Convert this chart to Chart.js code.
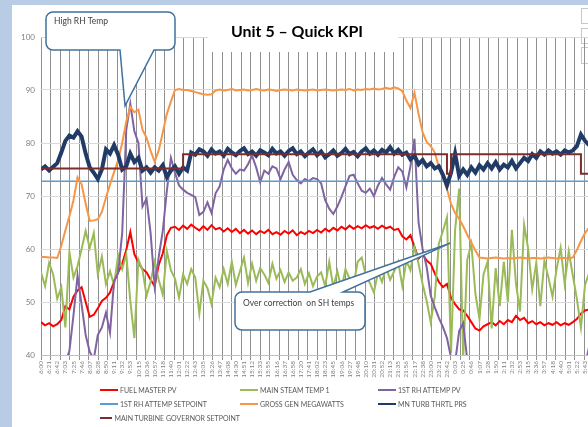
<!DOCTYPE html>
<html>
<head>
<meta charset="utf-8">
<script src="https://cdn.jsdelivr.net/npm/chart.js@4.4.1/dist/chart.umd.min.js"></script>
<style>
  html, body { margin: 0; padding: 0; }
  body { width: 588px; height: 427px; background: #b9cce6; position: relative; overflow: hidden; }
  #panel { position: absolute; left: 12px; top: 5px; width: 576px; height: 422px; background: #fff; }
  #wrap { position: absolute; left: 0; top: 0; width: 588px; height: 386px; }
  #legend {
    position: absolute; left: 100px; top: 383px;
    display: grid; grid-template-columns: 140px 138px 160px; grid-auto-rows: 14px;
    font: 7px Lato, sans-serif; color: #595959;
  }
  #legend .item { display: flex; align-items: center; white-space: nowrap; }
  #legend .swatch { width: 18px; height: 2px; margin-right: 2px; }
  .xlbtn { position: absolute; left: 581px; width: 12px; background: #fff; border: 1px solid #c8c8c8; }
</style>
</head>
<body>
<div id="panel"></div>
<div class="xlbtn" style="top:8px;height:14px"></div>
<div class="xlbtn" style="top:28px;height:14px"></div>
<div class="xlbtn" style="top:47px;height:15px"></div>
<div id="wrap"><canvas id="kpi" width="588" height="386"></canvas></div>
<div id="legend"></div>
<script>
// time labels on the x axis (one every ~21 min)
const times = ["6:00","6:21","6:42","7:03","7:25","7:46","8:07","8:28","8:50","9:11","9:32","9:53",
  "10:15","10:36","10:57","11:18","11:40","12:01","12:22","12:43","13:05","13:26","13:47","14:08",
  "14:30","14:51","15:12","15:33","15:55","16:16","16:37","16:58","17:20","17:41","18:02","18:23",
  "18:45","19:06","19:27","19:48","20:10","20:31","20:52","21:13","21:35","21:56","22:17","22:38",
  "23:00","23:21","23:42","0:03","0:25","0:46","1:07","1:28","1:50","2:11","2:32","2:53","3:15",
  "3:36","3:57","4:18","4:40","5:01","5:22","5:43"];

// two samples per time label
const SAMPLES_PER_LABEL = 2;

const fuelMasterPv = [
  46.2, 45.6, 46.0, 45.4, 45.8, 46.6, 49.2, 48.6, 51.0, 52.2,
  52.8, 50.0, 47.2, 47.6, 48.8, 50.2, 50.8, 51.8, 53.8, 55.6,
  57.2, 59.8, 63.2, 59.0, 57.4, 56.2, 55.6, 54.2, 53.0, 57.0,
  59.2, 62.6, 64.0, 64.2, 63.6, 64.4, 63.8, 64.6, 64.0, 63.5,
  64.3, 63.6, 64.5, 63.7, 64.0, 63.3, 63.9, 63.2, 63.8, 63.0,
  63.6, 62.9, 63.5, 62.8, 63.4, 63.0, 63.6, 62.8, 63.2, 62.7,
  63.4, 62.9, 63.5, 62.6, 63.2, 62.8, 63.4, 63.0, 63.6, 63.1,
  63.8, 63.3, 64.0, 63.5, 64.2, 63.7, 64.4, 63.8, 64.3, 63.9,
  64.5, 64.0, 64.3, 63.8, 64.4, 63.9, 64.2, 63.6, 63.8, 62.4,
  61.8, 62.6, 60.4, 58.2, 59.0, 57.8, 57.2, 55.4, 53.8, 52.8,
  53.4, 50.8, 49.6, 48.6, 48.4, 47.4, 46.2, 45.0, 44.6, 45.4,
  45.8, 46.2, 45.6, 46.4, 45.8, 46.6, 46.2, 47.4, 46.6, 47.0,
  46.0, 46.4, 45.8, 46.2, 45.6, 46.0, 45.7, 46.2, 45.6, 46.0,
  45.7, 46.2, 46.8, 47.8, 48.4, 48.6];

const mainSteamTemp = [
  55.6, 53.0, 57.4, 55.2, 50.6, 52.8, 45.2, 59.4, 54.6, 56.8,
  60.0, 63.4, 60.2, 63.0, 55.2, 58.6, 53.4, 55.8, 53.2, 58.8,
  56.2, 59.0, 50.2, 43.2, 58.0, 56.0, 51.2, 53.8, 57.6, 54.2,
  51.4, 59.6, 56.0, 54.4, 50.8, 55.2, 53.4, 56.2, 54.6, 47.8,
  54.0, 52.6, 49.6, 54.6, 52.8, 56.2, 53.4, 57.6, 53.2, 55.8,
  58.4, 53.6, 57.2, 54.0, 56.4, 55.2, 53.6, 57.2, 54.4, 56.0,
  53.8, 55.6, 54.0, 54.6, 56.2, 53.4, 55.4, 53.0, 54.8, 55.6,
  53.0, 57.6, 52.8, 55.8, 52.4, 56.2, 54.4, 53.2, 57.6, 58.4,
  55.0, 53.6, 51.8, 55.6, 53.8, 56.6, 54.2, 55.8, 57.6, 53.0,
  57.8, 56.0, 60.4, 57.2, 53.4, 50.2, 46.2, 51.0, 61.0, 63.4,
  66.0, 40.4, 63.6, 71.4, 39.4, 58.0, 61.0, 51.6, 46.8, 55.2,
  57.6, 45.0, 56.4, 49.2, 57.6, 50.0, 63.6, 53.4, 48.2, 64.6,
  60.0, 52.4, 57.4, 49.2, 57.8, 54.6, 51.0, 56.2, 60.2, 53.4,
  59.6, 55.0, 50.6, 45.2, 53.2, 55.4];

const rhAttempPv = [
  36, 36, 36, 36, 36, 37, 38.5, 40.8, 47.5, 55.0,
  49.5, 43.8, 40.6, 39.2, 43.8, 45.2, 48.0, 44.2, 54.0, 55.5,
  63.0, 82.5, 87.4, 82.2, 80.0, 68.0, 69.5, 63.0, 53.0, 58.5,
  63.4, 71.0, 77.2, 74.4, 72.0, 71.2, 70.6, 70.2, 69.8, 66.4,
  67.0, 68.8, 66.8, 70.5, 71.8, 75.0, 76.8, 75.2, 74.2, 75.0,
  74.8, 76.0, 77.6, 75.4, 72.6, 74.8, 74.2, 75.6, 75.2, 73.2,
  75.0, 76.4, 74.0, 73.0, 72.4, 73.2, 72.8, 73.4, 73.2, 72.4,
  69.2, 67.6, 66.6, 68.0, 69.8, 71.8, 73.8, 74.0, 72.4, 71.0,
  70.6, 71.4, 70.0, 72.0, 73.4, 72.2, 71.2, 73.6, 75.4, 74.6,
  71.6, 75.6, 80.8, 65.0, 60.0, 56.6, 51.2, 49.0, 47.0, 45.3,
  43.2, 39.5, 38.5, 44.5, 46.0, 39.0, 37, 37, 37, 37,
  37, 37, 37, 37, 37, 37, 37, 37, 37, 37,
  37, 37, 37, 37, 37, 37, 37, 37, 37, 37,
  37, 37, 37, 37, 38, 41.5];

const rhAttempSetpoint = [
  72.8, 72.8, 72.8, 72.8, 72.8, 72.8, 72.8, 72.8, 72.8, 72.8,
  72.8, 72.8, 72.8, 72.8, 72.8, 72.8, 72.8, 72.8, 72.8, 72.8,
  72.8, 72.8, 72.8, 72.8, 72.8, 72.8, 72.8, 72.8, 72.8, 72.8,
  72.8, 72.8, 72.8, 72.8, 72.8, 72.8, 72.8, 72.8, 72.8, 72.8,
  72.8, 72.8, 72.8, 72.8, 72.8, 72.8, 72.8, 72.8, 72.8, 72.8,
  72.8, 72.8, 72.8, 72.8, 72.8, 72.8, 72.8, 72.8, 72.8, 72.8,
  72.8, 72.8, 72.8, 72.8, 72.8, 72.8, 72.8, 72.8, 72.8, 72.8,
  72.8, 72.8, 72.8, 72.8, 72.8, 72.8, 72.8, 72.8, 72.8, 72.8,
  72.8, 72.8, 72.8, 72.8, 72.8, 72.8, 72.8, 72.8, 72.8, 72.8,
  72.8, 72.8, 72.8, 72.8, 72.8, 72.8, 72.8, 72.8, 72.8, 72.8,
  72.8, 72.8, 72.8, 72.8, 72.8, 72.8, 72.8, 72.8, 72.8, 72.8,
  72.8, 72.8, 72.8, 72.8, 72.8, 72.8, 72.8, 72.8, 72.8, 72.8,
  72.8, 72.8, 72.8, 72.8, 72.8, 72.8, 72.8, 72.8, 72.8, 72.8,
  72.8, 72.8, 72.8, 72.8, 72.8, 72.8];

const grossGenMw = [
  58.5, 58.5, 58.4, 58.4, 58.3, 60.6, 63.5, 66.2, 69.2, 73.5,
  72.2, 68.6, 65.3, 65.4, 65.6, 67.0, 69.7, 72.2, 74.5, 76.8,
  80.0, 84.0, 86.8, 85.8, 86.3, 82.5, 81.0, 78.5, 76.5, 78.6,
  82.0, 85.5, 87.8, 90.0, 90.2, 90.0, 90.0, 89.8, 89.6, 89.4,
  89.2, 89.1, 89.2, 89.9, 90.1, 89.9, 90.0, 90.2, 89.9, 90.0,
  90.1, 89.9, 90.0, 90.2, 90.0, 89.9, 90.1, 90.0, 89.8, 90.0,
  90.1, 90.0, 89.9, 90.1, 90.0, 89.9, 90.0, 90.1, 89.9, 90.0,
  90.1, 90.0, 89.9, 90.0, 90.1, 90.0, 90.2, 89.9, 90.1, 90.0,
  90.2, 90.1, 90.3, 90.1, 90.2, 90.4, 90.2, 90.5, 90.3, 89.8,
  88.0, 86.6, 89.5, 85.5, 82.0, 80.2, 79.4, 78.2, 75.5, 73.4,
  71.3, 68.5, 66.8, 65.7, 64.3, 62.7, 61.2, 59.7, 58.4, 58.3,
  58.2, 58.3, 58.4, 58.3, 58.2, 58.3, 58.2, 58.3, 58.4, 58.3,
  58.2, 58.3, 58.3, 58.2, 58.3, 58.4, 58.3, 58.2, 58.3, 58.3,
  58.2, 58.4, 59.8, 61.5, 63.0, 64.0];

const turbThrtlPrs = [
  75.0, 75.6, 74.8, 75.5, 76.2, 78.2, 80.4, 81.4, 81.0, 82.2,
  81.2, 78.0, 75.4, 74.4, 73.2, 75.0, 78.8, 78.0, 79.6, 77.8,
  75.0, 75.6, 78.0, 76.4, 77.2, 74.8, 75.4, 74.4, 75.4, 74.8,
  75.8, 73.6, 74.8, 75.6, 74.2, 75.4, 74.8, 78.2, 77.8, 78.8,
  78.4, 77.6, 78.8, 78.0, 78.4, 77.6, 78.9, 78.2, 77.7, 78.5,
  79.0, 77.9, 78.4, 77.6, 78.6, 78.2, 77.7, 78.9, 78.0, 78.4,
  77.6, 78.5, 79.0, 77.9, 78.4, 77.5, 78.2, 78.8, 77.7, 78.4,
  77.3, 77.9, 78.6, 77.6, 78.1, 78.9, 77.9, 78.3, 77.5, 78.4,
  79.0, 78.0, 78.6, 77.8, 78.7, 78.2, 79.2, 78.0, 78.7, 77.8,
  78.2, 76.9, 77.6, 76.0, 76.8, 75.6, 76.2, 75.2, 75.6, 74.0,
  72.0, 74.4, 78.0, 73.8, 75.0, 74.0, 75.4, 74.4, 75.8, 75.0,
  76.2, 75.2, 76.4, 75.0, 75.9, 75.4, 76.6, 75.2, 76.2, 77.2,
  76.6, 77.9, 77.2, 78.4, 77.8, 78.6, 78.0, 78.4, 77.8, 78.6,
  78.2, 78.6, 79.4, 81.6, 80.4, 79.6];

const govSetpoint = [
  75.2, 75.2, 75.2, 75.2, 75.2, 75.2, 75.2, 75.2, 75.2, 75.2,
  75.2, 75.2, 75.2, 75.2, 75.2, 75.2, 75.2, 75.2, 75.2, 75.2,
  75.2, 75.2, 75.2, 75.2, 75.2, 75.2, 75.2, 75.2, 75.2, 75.2,
  75.2, 75.2, 75.2, 75.2, 75.2, 75.2, 77.9, 77.9, 77.9, 77.9,
  77.9, 77.9, 77.9, 77.9, 77.9, 77.9, 77.9, 77.9, 77.9, 77.9,
  77.9, 77.9, 77.9, 77.9, 77.9, 77.9, 77.9, 77.9, 77.9, 77.9,
  77.9, 77.9, 77.9, 77.9, 77.9, 77.9, 77.9, 77.9, 77.9, 77.9,
  77.9, 77.9, 77.9, 77.9, 77.9, 77.9, 77.9, 77.9, 77.9, 77.9,
  77.9, 77.9, 77.9, 77.9, 77.9, 77.9, 77.9, 77.9, 77.9, 77.9,
  77.9, 77.9, 77.9, 77.9, 77.9, 77.9, 77.9, 77.9, 77.9, 77.9,
  77.9, 74.2, 77.9, 77.9, 77.9, 77.9, 77.9, 77.9, 77.9, 77.9,
  77.9, 77.9, 77.9, 77.9, 77.9, 77.9, 77.9, 77.9, 77.9, 77.9,
  77.9, 77.9, 77.9, 77.9, 77.9, 77.9, 77.9, 77.9, 77.9, 77.9,
  77.9, 77.9, 77.9, 77.9, 74.2, 74.2];

const seriesNames = ["FUEL MASTER PV", "MAIN STEAM TEMP 1", "1ST RH ATTEMP PV",
  "1ST RH ATTEMP SETPOINT", "GROSS GEN MEGAWATTS", "MN TURB THRTL PRS",
  "MAIN TURBINE GOVERNOR SETPOINT"];
const seriesValues = [fuelMasterPv, mainSteamTemp, rhAttempPv, rhAttempSetpoint,
  grossGenMw, turbThrtlPrs, govSetpoint];
const seriesColors = ["#ff0000", "#9bbb59", "#8064a2", "#5b9bd5", "#f79646", "#1f3b66", "#7b2c2c"];
const seriesWidths = [2, 2, 2, 1.5, 2, 4, 2];

const toPoints = (vals) => vals.map((v, i) => ({ x: i / SAMPLES_PER_LABEL, y: v }));

// callouts and title drawn on top of the plot
const annotations = {
  id: "annotations",
  afterDraw(chart) {
    const { ctx, scales } = chart;
    ctx.save();

    // title box hides the vertical lines behind it
    ctx.fillStyle = "#fff";
    ctx.fillRect(208, 14, 190, 38);
    ctx.font = "bold 16px Lato";
    ctx.fillStyle = "#000";
    const title = "Unit 5 \u2013 Quick KPI";
    const w = ctx.measureText(title).width;
    const sx = Math.min(1, 132 / w);
    ctx.save();
    ctx.translate(297, 37);
    ctx.scale(sx, 1);
    ctx.textAlign = "center";
    ctx.fillText(title, 0, 0);
    ctx.restore();

    const tip1 = { x: scales.x.getPixelForValue(10.35), y: scales.y.getPixelForValue(87) };
    const tip2 = { x: scales.x.getPixelForValue(50.4), y: scales.y.getPixelForValue(61.1) };
    drawCallout(ctx, { l: 46, t: 12, r: 175, b: 50 }, "bottom", 120, 154, tip1);
    drawCallout(ctx, { l: 235, t: 292, r: 365, b: 330 }, "top", 310, 343, tip2);

    ctx.font = "8.5px Lato";
    ctx.fillStyle = "#404040";
    ctx.textAlign = "left";
    ctx.fillText("High RH Temp", 54, 24);
    ctx.fillText("Over correction  on SH temps", 243, 306);
    ctx.restore();
  }
};

function drawCallout(ctx, box, side, b0, b1, tip) {
  const rad = 7;
  const { l, t, r, b } = box;
  ctx.beginPath();
  ctx.moveTo(l + rad, t);
  if (side === "top") {
    ctx.lineTo(b0, t);
    ctx.lineTo(tip.x, tip.y);
    ctx.lineTo(b1, t);
  }
  ctx.lineTo(r - rad, t);
  ctx.arcTo(r, t, r, t + rad, rad);
  ctx.lineTo(r, b - rad);
  ctx.arcTo(r, b, r - rad, b, rad);
  if (side === "bottom") {
    ctx.lineTo(b1, b);
    ctx.lineTo(tip.x, tip.y);
    ctx.lineTo(b0, b);
  }
  ctx.lineTo(l + rad, b);
  ctx.arcTo(l, b, l, b - rad, rad);
  ctx.lineTo(l, t + rad);
  ctx.arcTo(l, t, l + rad, t, rad);
  ctx.closePath();
  ctx.fillStyle = "#fff";
  ctx.fill();
  ctx.strokeStyle = "#41719c";
  ctx.lineWidth = 1.5;
  ctx.stroke();
}

const datasets = seriesNames.map((name, i) => ({
  label: name,
  data: toPoints(seriesValues[i]),
  borderColor: seriesColors[i],
  backgroundColor: seriesColors[i],
  borderWidth: seriesWidths[i],
  pointRadius: 0,
  tension: 0,
  stepped: name === "MAIN TURBINE GOVERNOR SETPOINT" ? "after" : false,
  order: seriesNames.length - i
}));

const chart = new Chart(document.getElementById("kpi"), {
  type: "line",
  data: { datasets },
  options: {
    responsive: false,
    animation: false,
    layout: { padding: { top: 37, right: 0, bottom: 0, left: 0 } },
    plugins: { legend: { display: false }, tooltip: { enabled: false } },
    scales: {
      x: {
        type: "linear", position: "bottom", weight: 1,
        min: 0, max: 67.37,
        grid: { display: false, drawTicks: false },
        border: { display: false },
        ticks: {
          stepSize: 1, includeBounds: false, autoSkip: false, maxRotation: 90, minRotation: 90, padding: 1,
          color: "#808080", font: { family: "Lato", size: 6.5 },
          callback: (v) => times[v] ?? ""
        },
        afterFit: (s) => { s.height = 26; s.paddingLeft = 0; s.paddingRight = 0; }
      },
      x2: {
        type: "linear", position: "bottom", weight: 0,
        min: 0, max: 57.4,
        grid: { color: "#909090", lineWidth: 1, drawTicks: true, tickLength: 5 },
        border: { display: true, color: "#bfbfbf" },
        ticks: { display: false, stepSize: 1, includeBounds: false }
      },
      y: {
        min: 40, max: 100,
        grid: { color: "#d9d9d9", drawTicks: false },
        border: { display: false },
        ticks: { stepSize: 10, padding: 6, color: "#7f7f7f", font: { family: "Lato", size: 8 } },
        afterFit: (s) => { s.width = 41; }
      }
    }
  },
  plugins: [annotations]
});

// legend laid out like the Excel one (three columns)
const legend = document.getElementById("legend");
chart.data.datasets.forEach((ds) => {
  const item = document.createElement("div");
  item.className = "item";
  const sw = document.createElement("span");
  sw.className = "swatch";
  sw.style.background = ds.borderColor;
  const txt = document.createElement("span");
  txt.textContent = ds.label;
  item.appendChild(sw);
  item.appendChild(txt);
  legend.appendChild(item);
});
</script>
</body>
</html>
